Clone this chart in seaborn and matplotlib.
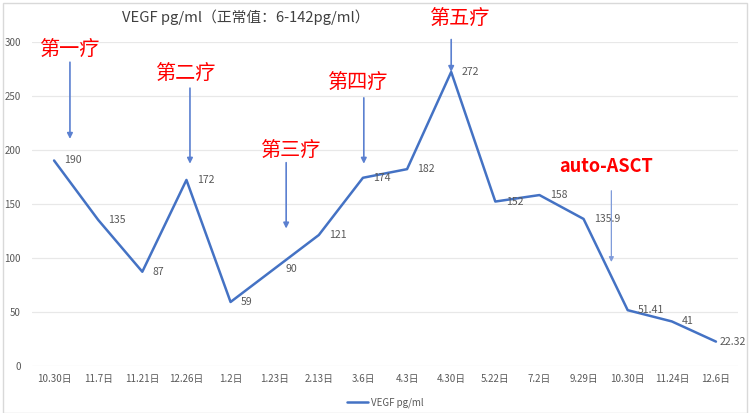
import matplotlib
matplotlib.use("Agg")
import matplotlib.pyplot as plt
import seaborn as sns
import numpy as np
from matplotlib.patches import Rectangle

dates = ["10.30日", "11.7日", "11.21日", "12.26日", "1.2日", "1.23日", "2.13日", "3.6日",
         "4.3日", "4.30日", "5.22日", "7.2日", "9.29日", "10.30日", "11.24日", "12.6日"]
vegf = [190, 135, 87, 172, 59, 90, 121, 174, 182, 272, 152, 158, 135.9, 51.41, 41, 22.32]
value_labels = ["190", "135", "87", "172", "59", "90", "121", "174", "182", "272", "152",
                "158", "135.9", "51.41", "41", "22.32"]
yticks = [0, 50, 100, 150, 200, 250, 300]

# annotations: (text, text_x, text_y, arrow_x, arrow_y_start, arrow_y_end)
treat_names = ["第一疗", "第二疗", "第三疗", "第四疗", "第五疗"]
treat_text_x = [0.34, 2.97, 5.35, 6.86, 9.19]
treat_text_y = [292, 270, 198, 261, 321]
treat_arrow_x = [0.36, 3.08, 5.26, 7.02, 9.0]
treat_arrow_y0 = [281, 257, 188, 248, 302]
treat_arrow_y1 = [210, 187, 127, 187, 272]

sns.set_theme(style="white")
plt.rcParams['font.family'] = ['Noto Sans CJK SC', 'DejaVu Sans']

fig = plt.figure(figsize=(7.5, 4.13), dpi=100)
ax = fig.add_axes([32/750, 1-365.7/413, 706/750, (365.7-41.7)/413])

line_color = "#4472C4"
pos = np.arange(len(dates))
sns.lineplot(x=pos, y=vegf, ax=ax, color=line_color, linewidth=1.8, label="VEGF pg/ml")

ax.set_xlim(-0.5, len(dates) - 0.5)
ax.set_ylim(0, 300)
ax.set_yticks(yticks)
ax.set_yticklabels([str(t) for t in yticks], fontsize=7, color="#595959")
ax.set_xticks(pos)
ax.set_xticklabels(dates, fontsize=7, color="#595959")
ax.tick_params(axis="both", length=0, pad=6)
ax.tick_params(axis="y", pad=8)
for s in ax.spines.values():
    s.set_visible(False)
ax.grid(axis="y", color="#E8E8E8", linewidth=0.9)
ax.set_axisbelow(True)
ax.set_xlabel("")
ax.set_ylabel("")

n = len(vegf)
for i, (x, y, lab) in enumerate(zip(pos, vegf, value_labels)):
    dx = 3.0 if i == n - 1 else 7.5
    ax.annotate(lab, (x, y), xytext=(dx, 0), textcoords="offset points",
                ha="left", va="center", fontsize=7.6, color="#595959",
                annotation_clip=False)

arrow_color = "#5B80D0"
for name, tx, ty, axx, y0, y1 in zip(treat_names, treat_text_x, treat_text_y,
                                     treat_arrow_x, treat_arrow_y0, treat_arrow_y1):
    ax.text(tx, ty, name, ha="center", va="center", fontsize=14.5, color="#FF0000",
            clip_on=False)
    ax.annotate("", xy=(axx, y1), xytext=(axx, y0),
                arrowprops=dict(arrowstyle="-|>", color=arrow_color, lw=1.2,
                                mutation_scale=8, shrinkA=0, shrinkB=0),
                annotation_clip=False)

ax.text(12.5, 184, "auto-ASCT", ha="center", va="center", fontsize=13, color="#FF0000",
        fontweight="bold")
ax.annotate("", xy=(12.63, 96), xytext=(12.63, 162),
            arrowprops=dict(arrowstyle="-|>", color="#7F9BDA", lw=0.9,
                            mutation_scale=7, shrinkA=0, shrinkB=0))

leg = ax.legend(loc="upper center", bbox_to_anchor=(0.5, -0.07), frameon=False,
                fontsize=7, handlelength=2.2, handletextpad=0.3)
for t in leg.get_texts():
    t.set_color("#595959")

fig.text(246/750, 1-17/413, "VEGF pg/ml（正常值：6-142pg/ml）", ha="center", va="center",
         fontsize=10.6, color="#404040")

fig.patches.append(Rectangle((3/750, 0.0), 744/750, 1-3/413, transform=fig.transFigure,
                             fill=False, edgecolor="#D9D9D9", linewidth=1))

fig.savefig("out.png", dpi=100)
